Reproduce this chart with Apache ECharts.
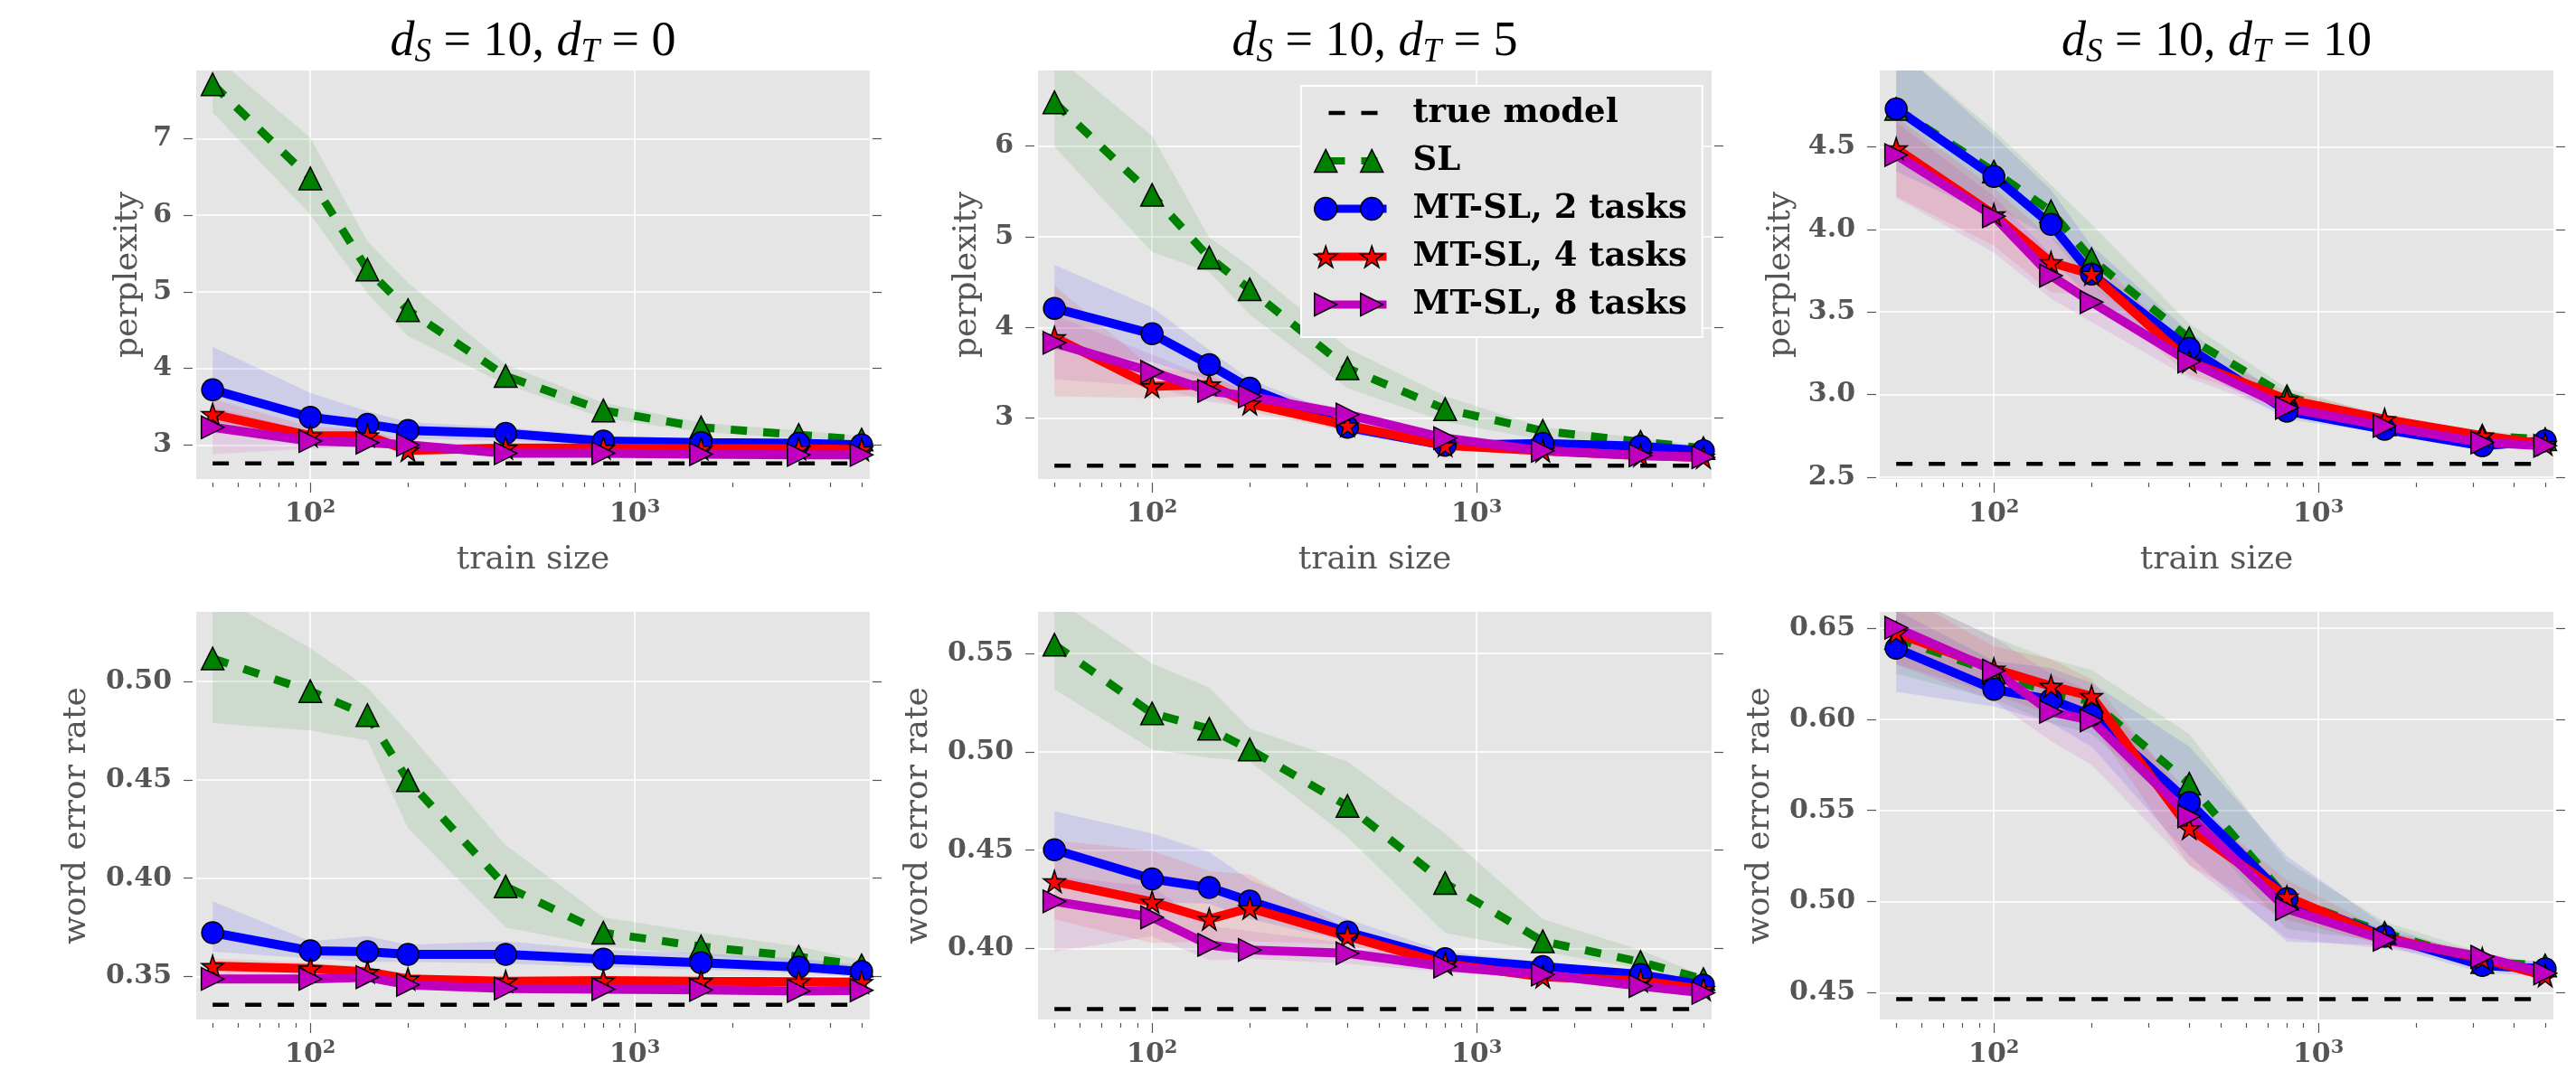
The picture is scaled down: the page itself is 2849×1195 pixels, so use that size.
<!DOCTYPE html>
<html>
<head>
<meta charset="utf-8">
<script src="https://cdn.jsdelivr.net/npm/echarts@6.0.0/dist/echarts.min.js"></script>
<style>
html, body { margin: 0; padding: 0; background: #fff; }
#chart { width: 2849px; height: 1195px; }
</style>
</head>
<body>
<div id="chart"></div>
<script>
/** 数据 */
var trainSize = [50, 100, 150, 200, 400, 800, 1600, 3200, 5000];
var xMajorTicks = [100, 1000];
var xMinorTicks = [50, 60, 70, 80, 90, 200, 300, 400, 500, 600, 700, 800, 900, 2000, 3000, 4000, 5000];
var methodNames = ['SL', 'MT-SL, 2 tasks', 'MT-SL, 4 tasks', 'MT-SL, 8 tasks'];
var trueName = 'true model';
var dS = '10';
var dT = ['0', '5', '10'];

// perplexity, d_T = 0
var ppl0_true = 2.76;
var ppl0_sl = [7.71, 6.48, 5.29, 4.76, 3.90, 3.45, 3.23, 3.13, 3.07];
var ppl0_slLo = [7.34, 6.01, 4.98, 4.42, 3.79, 3.35, 3.17, 3.09, 3.04];
var ppl0_slHi = [8.10, 7.01, 5.66, 5.12, 4.05, 3.55, 3.29, 3.19, 3.12];
var ppl0_mt2 = [3.72, 3.36, 3.27, 3.19, 3.15, 3.05, 3.03, 3.02, 3.00];
var ppl0_mt2Lo = [3.30, 3.09, 3.09, 3.08, 3.05, 3.00, 2.98, 2.97, 2.95];
var ppl0_mt2Hi = [4.28, 3.68, 3.44, 3.30, 3.23, 3.12, 3.08, 3.07, 3.05];
var ppl0_mt4 = [3.40, 3.12, 3.12, 2.93, 2.96, 2.96, 2.95, 2.95, 2.94];
var ppl0_mt4Lo = [3.18, 3.00, 3.04, 2.86, 2.92, 2.93, 2.92, 2.92, 2.91];
var ppl0_mt4Hi = [3.60, 3.24, 3.20, 3.04, 3.00, 2.99, 2.98, 2.98, 2.97];
var ppl0_mt8 = [3.23, 3.05, 3.03, 3.00, 2.89, 2.89, 2.88, 2.87, 2.87];
var ppl0_mt8Lo = [2.88, 2.95, 2.97, 2.95, 2.86, 2.86, 2.85, 2.85, 2.85];
var ppl0_mt8Hi = [3.49, 3.18, 3.10, 3.05, 2.93, 2.91, 2.90, 2.89, 2.89];
var ppl0_ticks = [3, 4, 5, 6, 7];
var ppl0_range = [2.555, 7.89];

// perplexity, d_T = 5
var ppl5_true = 2.476;
var ppl5_sl = [6.48, 5.46, 4.77, 4.42, 3.55, 3.10, 2.86, 2.74, 2.67];
var ppl5_slLo = [5.99, 4.83, 4.61, 4.14, 3.33, 2.96, 2.76, 2.69, 2.63];
var ppl5_slHi = [7.00, 6.11, 4.99, 4.67, 3.77, 3.24, 2.90, 2.78, 2.69];
var ppl5_mt2 = [4.21, 3.93, 3.59, 3.33, 2.90, 2.70, 2.72, 2.69, 2.64];
var ppl5_mt2Lo = [3.75, 3.62, 3.42, 3.20, 2.83, 2.66, 2.69, 2.66, 2.61];
var ppl5_mt2Hi = [4.69, 4.22, 3.75, 3.43, 3.00, 2.76, 2.74, 2.71, 2.67];
var ppl5_mt4 = [3.89, 3.35, 3.37, 3.16, 2.92, 2.70, 2.64, 2.59, 2.57];
var ppl5_mt4Lo = [3.24, 3.22, 3.25, 3.07, 2.86, 2.66, 2.60, 2.56, 2.54];
var ppl5_mt4Hi = [4.46, 3.55, 3.50, 3.26, 2.98, 2.75, 2.67, 2.62, 2.60];
var ppl5_mt8 = [3.83, 3.51, 3.30, 3.24, 3.04, 2.78, 2.64, 2.59, 2.57];
var ppl5_mt8Lo = [3.43, 3.35, 3.18, 3.12, 2.98, 2.74, 2.61, 2.56, 2.54];
var ppl5_mt8Hi = [4.14, 3.70, 3.45, 3.33, 3.09, 2.82, 2.67, 2.62, 2.60];
var ppl5_ticks = [3, 4, 5, 6];
var ppl5_range = [2.33, 6.83];

// perplexity, d_T = 10
var ppl10_true = 2.58;
var ppl10_sl = [4.73, 4.35, 4.11, 3.82, 3.34, 2.99, 2.82, 2.75, 2.73];
var ppl10_slLo = [4.42, 4.14, 3.95, 3.66, 3.22, 2.93, 2.79, 2.72, 2.71];
var ppl10_slHi = [5.10, 4.60, 4.27, 4.03, 3.43, 3.04, 2.87, 2.78, 2.75];
var ppl10_mt2 = [4.73, 4.32, 4.03, 3.73, 3.28, 2.90, 2.79, 2.69, 2.72];
var ppl10_mt2Lo = [4.35, 4.08, 3.82, 3.58, 3.18, 2.85, 2.77, 2.66, 2.70];
var ppl10_mt2Hi = [5.10, 4.57, 4.24, 3.90, 3.38, 2.97, 2.82, 2.73, 2.74];
var ppl10_mt4 = [4.49, 4.09, 3.80, 3.73, 3.20, 2.97, 2.85, 2.75, 2.70];
var ppl10_mt4Lo = [4.20, 3.90, 3.62, 3.60, 3.12, 2.93, 2.82, 2.72, 2.68];
var ppl10_mt4Hi = [4.68, 4.25, 3.95, 3.85, 3.27, 3.02, 2.88, 2.77, 2.72];
var ppl10_mt8 = [4.45, 4.08, 3.72, 3.56, 3.20, 2.92, 2.81, 2.71, 2.69];
var ppl10_mt8Lo = [4.19, 3.86, 3.58, 3.44, 3.10, 2.88, 2.78, 2.69, 2.67];
var ppl10_mt8Hi = [4.65, 4.20, 3.85, 3.66, 3.27, 2.96, 2.84, 2.73, 2.71];
var ppl10_ticks = [2.5, 3.0, 3.5, 4.0, 4.5];
var ppl10_range = [2.489, 4.962];

// word error rate, d_T = 0
var wer0_true = 0.3357;
var wer0_sl = [0.5117, 0.4951, 0.4829, 0.4498, 0.3958, 0.3723, 0.3653, 0.3601, 0.3557];
var wer0_slLo = [0.4789, 0.4751, 0.4702, 0.4254, 0.3749, 0.3653, 0.3610, 0.3566, 0.3531];
var wer0_slHi = [0.5450, 0.5169, 0.4969, 0.4742, 0.4167, 0.3801, 0.3723, 0.3653, 0.3584];
var wer0_mt2 = [0.3723, 0.3631, 0.3627, 0.3613, 0.3613, 0.3589, 0.3570, 0.3549, 0.3526];
var wer0_mt2Lo = [0.3627, 0.3592, 0.3575, 0.3575, 0.3566, 0.3549, 0.3535, 0.3517, 0.3500];
var wer0_mt2Hi = [0.3883, 0.3679, 0.3706, 0.3662, 0.3679, 0.3636, 0.3618, 0.3592, 0.3557];
var wer0_mt4 = [0.3553, 0.3540, 0.3523, 0.3488, 0.3476, 0.3479, 0.3476, 0.3474, 0.3471];
var wer0_mt4Lo = [0.3510, 0.3505, 0.3495, 0.3466, 0.3458, 0.3461, 0.3458, 0.3456, 0.3453];
var wer0_mt4Hi = [0.3592, 0.3570, 0.3550, 0.3510, 0.3495, 0.3497, 0.3495, 0.3493, 0.3490];
var wer0_mt8 = [0.3488, 0.3488, 0.3497, 0.3458, 0.3439, 0.3436, 0.3432, 0.3427, 0.3430];
var wer0_mt8Lo = [0.3466, 0.3470, 0.3478, 0.3440, 0.3423, 0.3420, 0.3416, 0.3411, 0.3414];
var wer0_mt8Hi = [0.3510, 0.3505, 0.3515, 0.3475, 0.3455, 0.3452, 0.3448, 0.3443, 0.3446];
var wer0_ticks = [0.35, 0.40, 0.45, 0.50];
var wer0_range = [0.3282, 0.5354];

// word error rate, d_T = 5
var wer5_true = 0.3693;
var wer5_sl = [0.5544, 0.5195, 0.5117, 0.5012, 0.4725, 0.4333, 0.4037, 0.3932, 0.3845];
var wer5_slLo = [0.5317, 0.5012, 0.4969, 0.4951, 0.4568, 0.4080, 0.3984, 0.3897, 0.3819];
var wer5_slHi = [0.5780, 0.5448, 0.5326, 0.5117, 0.4951, 0.4585, 0.4150, 0.3993, 0.3861];
var wer5_mt2 = [0.4502, 0.4354, 0.4310, 0.4242, 0.4084, 0.3949, 0.3909, 0.3868, 0.3815];
var wer5_mt2Lo = [0.4324, 0.4237, 0.4228, 0.4150, 0.4037, 0.3923, 0.3889, 0.3845, 0.3801];
var wer5_mt2Hi = [0.4699, 0.4585, 0.4490, 0.4350, 0.4150, 0.3984, 0.3932, 0.3889, 0.3836];
var wer5_mt4 = [0.4341, 0.4237, 0.4150, 0.4206, 0.4063, 0.3923, 0.3857, 0.3836, 0.3793];
var wer5_mt4Lo = [0.4150, 0.4028, 0.4037, 0.4037, 0.4020, 0.3897, 0.3838, 0.3818, 0.3778];
var wer5_mt4Hi = [0.4550, 0.4498, 0.4394, 0.4376, 0.4098, 0.3941, 0.3875, 0.3852, 0.3808];
var wer5_mt8 = [0.4240, 0.4159, 0.4019, 0.3993, 0.3976, 0.3909, 0.3868, 0.3810, 0.3775];
var wer5_mt8Lo = [0.3984, 0.4063, 0.3941, 0.3949, 0.3923, 0.3880, 0.3850, 0.3792, 0.3758];
var wer5_mt8Hi = [0.4368, 0.4315, 0.4115, 0.4089, 0.4028, 0.3932, 0.3886, 0.3828, 0.3792];
var wer5_ticks = [0.40, 0.45, 0.50, 0.55];
var wer5_range = [0.364, 0.5711];

// word error rate, d_T = 10
var wer10_true = 0.4466;
var wer10_sl = [0.6445, 0.6258, 0.6145, 0.6098, 0.5647, 0.5017, 0.4829, 0.4669, 0.4650];
var wer10_slLo = [0.625, 0.611, 0.598, 0.592, 0.545, 0.485, 0.478, 0.464, 0.459];
var wer10_slHi = [0.670, 0.645, 0.633, 0.627, 0.592, 0.522, 0.489, 0.472, 0.466];
var wer10_mt2 = [0.6389, 0.6164, 0.6107, 0.6023, 0.5543, 0.5017, 0.4810, 0.4650, 0.4632];
var wer10_mt2Lo = [0.615, 0.607, 0.598, 0.585, 0.525, 0.478, 0.476, 0.461, 0.459];
var wer10_mt2Hi = [0.660, 0.632, 0.628, 0.620, 0.585, 0.525, 0.487, 0.469, 0.467];
var wer10_mt4 = [0.6474, 0.6276, 0.6182, 0.6126, 0.5402, 0.5026, 0.4801, 0.4688, 0.4594];
var wer10_mt4Lo = [0.630, 0.614, 0.602, 0.598, 0.520, 0.490, 0.476, 0.466, 0.457];
var wer10_mt4Hi = [0.670, 0.640, 0.633, 0.622, 0.555, 0.512, 0.484, 0.471, 0.461];
var wer10_mt8 = [0.6502, 0.6267, 0.6041, 0.5994, 0.5468, 0.4960, 0.4791, 0.4697, 0.4607];
var wer10_mt8Lo = [0.630, 0.610, 0.588, 0.575, 0.520, 0.480, 0.474, 0.467, 0.458];
var wer10_mt8Hi = [0.670, 0.645, 0.625, 0.615, 0.560, 0.505, 0.484, 0.472, 0.462];
var wer10_ticks = [0.45, 0.50, 0.55, 0.60, 0.65];
var wer10_range = [0.4354, 0.6589];

/** 面板 */
var panels = [
    {truth: ppl0_true, mean: [ppl0_sl, ppl0_mt2, ppl0_mt4, ppl0_mt8], lo: [ppl0_slLo, ppl0_mt2Lo, ppl0_mt4Lo, ppl0_mt8Lo], hi: [ppl0_slHi, ppl0_mt2Hi, ppl0_mt4Hi, ppl0_mt8Hi], ticks: ppl0_ticks, range: ppl0_range, digits: 0, yName: 'perplexity'},
    {truth: ppl5_true, mean: [ppl5_sl, ppl5_mt2, ppl5_mt4, ppl5_mt8], lo: [ppl5_slLo, ppl5_mt2Lo, ppl5_mt4Lo, ppl5_mt8Lo], hi: [ppl5_slHi, ppl5_mt2Hi, ppl5_mt4Hi, ppl5_mt8Hi], ticks: ppl5_ticks, range: ppl5_range, digits: 0, yName: 'perplexity'},
    {truth: ppl10_true, mean: [ppl10_sl, ppl10_mt2, ppl10_mt4, ppl10_mt8], lo: [ppl10_slLo, ppl10_mt2Lo, ppl10_mt4Lo, ppl10_mt8Lo], hi: [ppl10_slHi, ppl10_mt2Hi, ppl10_mt4Hi, ppl10_mt8Hi], ticks: ppl10_ticks, range: ppl10_range, digits: 1, yName: 'perplexity'},
    {truth: wer0_true, mean: [wer0_sl, wer0_mt2, wer0_mt4, wer0_mt8], lo: [wer0_slLo, wer0_mt2Lo, wer0_mt4Lo, wer0_mt8Lo], hi: [wer0_slHi, wer0_mt2Hi, wer0_mt4Hi, wer0_mt8Hi], ticks: wer0_ticks, range: wer0_range, digits: 2, yName: 'word error rate'},
    {truth: wer5_true, mean: [wer5_sl, wer5_mt2, wer5_mt4, wer5_mt8], lo: [wer5_slLo, wer5_mt2Lo, wer5_mt4Lo, wer5_mt8Lo], hi: [wer5_slHi, wer5_mt2Hi, wer5_mt4Hi, wer5_mt8Hi], ticks: wer5_ticks, range: wer5_range, digits: 2, yName: 'word error rate'},
    {truth: wer10_true, mean: [wer10_sl, wer10_mt2, wer10_mt4, wer10_mt8], lo: [wer10_slLo, wer10_mt2Lo, wer10_mt4Lo, wer10_mt8Lo], hi: [wer10_slHi, wer10_mt2Hi, wer10_mt4Hi, wer10_mt8Hi], ticks: wer10_ticks, range: wer10_range, digits: 2, yName: 'word error rate'}
];

/** 样式配置 */
var serif = '"DejaVu Serif", serif';
var mathFont = '"Liberation Serif", "DejaVu Serif", serif';
var gridLeft = [217, 1148, 2079];
var gridTop = [78, 677];
var gridW = 745;
var gridH = 452;
var yNameGap = [53, 56, 87, 110, 110, 110];
var xMin = 44.5, xMax = 5300;
var colors = ['#008000', '#0000ff', '#ff0000', '#bf00bf'];
var bandColors = ['rgba(0,128,0,0.1)', 'rgba(0,0,255,0.1)', 'rgba(255,0,0,0.1)', 'rgba(191,0,191,0.1)'];
var lineWidths = [9, 10, 10, 10];
var tickStyle = {color: '#555', width: 1.2};

//--------- 工具方法 -------

/** 五角星顶点 */
var starPoints = function(cx, cy, R) {
    var pts = [];
    for (var k = 0; k < 10; k++) {
        var r = k % 2 ? R * 0.382 : R;
        var a = -Math.PI / 2 + k * Math.PI / 5;
        pts.push((cx + r * Math.cos(a)).toFixed(2) + ',' + (cy + r * Math.sin(a)).toFixed(2));
    }
    return 'M' + pts.join(' L') + ' Z';
};

var starPath = 'path://' + starPoints(50, 50, 50);
var rightTri = 'path://M0,0 L100,50 L0,100 Z';
var symbols = ['triangle', 'circle', starPath, rightTri];
var symbolSizes = [25, 24, 24, 25];

// 图例里两端各一个标记（76 x 25）
var starR = 12.5 / Math.cos(Math.PI / 10);
var pairIcons = [
    'path://M0,25 L12.5,0 L25,25 Z M51,25 L63.5,0 L76,25 Z',
    'path://M0,12.5 A12.5,12.5 0 1,1 25,12.5 A12.5,12.5 0 1,1 0,12.5 Z M51,12.5 A12.5,12.5 0 1,1 76,12.5 A12.5,12.5 0 1,1 51,12.5 Z',
    'path://' + starPoints(12.5, starR, starR) + ' ' + starPoints(63.5, starR, starR),
    'path://M0,0 L25,12.5 L0,25 Z M51,0 L76,12.5 L51,25 Z'
];

var zip = function(xs, ys) {
    return xs.map(function(x, k) { return [x, ys[k]]; });
};

/** 置信带：一个多边形，坐标由轴换算 */
var makeBand = function(xs, lo, hi, fill) {
    return function(params, api) {
        if (params.dataIndex !== 0) return null;
        var pts = [];
        for (var k = 0; k < xs.length; k++) pts.push(api.coord([xs[k], hi[k]]));
        for (var k2 = xs.length - 1; k2 >= 0; k2--) pts.push(api.coord([xs[k2], lo[k2]]));
        return {type: 'polygon', shape: {points: pts}, style: {fill: fill}, silent: true};
    };
};

/** 图例：底层画线，上层画两端标记 */
var legendBase = {
    show: true,
    orient: 'vertical',
    left: 1439,
    top: 95,
    padding: [10, 17, 16, 14],
    itemGap: 13,
    itemWidth: 76,
    itemHeight: 31,
    selectedMode: false
};
var legendText = {fontFamily: serif, fontWeight: 'bold', fontSize: 37, color: '#000', lineHeight: 40, padding: [0, 0, 0, 24]};

var legendLines = Object.assign({}, legendBase, {
    backgroundColor: '#E5E5E5',
    borderColor: '#fff',
    borderWidth: 2,
    z: 4,
    textStyle: legendText,
    data: [{name: trueName, itemStyle: {opacity: 0}, lineStyle: {color: '#000', width: 4.5, type: [18, 18], dashOffset: -12}}]
        .concat(methodNames.map(function(n, m) {
            return {name: n, itemStyle: {opacity: 0}, lineStyle: {color: colors[m], width: lineWidths[m] - 1, type: m === 0 ? [18, 18] : 'solid', dashOffset: -12}};
        }))
});
var legendMarks = Object.assign({}, legendBase, {
    backgroundColor: 'transparent',
    borderWidth: 0,
    z: 5,
    symbolKeepAspect: true,
    textStyle: Object.assign({}, legendText, {color: 'rgba(0,0,0,0)'}),
    data: [{name: trueName, icon: 'rect', itemStyle: {opacity: 0}}]
        .concat(methodNames.map(function(n, m) {
            return {name: n, icon: pairIcons[m], itemStyle: {color: colors[m], borderColor: '#000', borderWidth: 1.5, opacity: 1}};
        }))
});

var option = {
    animation: false,
    backgroundColor: '#fff',
    title: [],
    grid: [],
    xAxis: [],
    yAxis: [],
    series: [],
    legend: [legendLines, legendMarks]
};

// 标题
for (var c = 0; c < 3; c++) {
    option.title.push({
        text: '{i|d}{s|S}{n| = ' + dS + ', }{i|d}{s|T}{n| = ' + dT[c] + '}',
        left: gridLeft[c] + gridW / 2 - 5,
        top: 12,
        textAlign: 'center',
        textStyle: {
            fontWeight: 'normal',
            rich: {
                i: {fontFamily: mathFont, fontStyle: 'italic', fontWeight: 'normal', fontSize: 54, lineHeight: 60, color: '#000', verticalAlign: 'middle'},
                n: {fontFamily: mathFont, fontWeight: 'normal', fontSize: 54, lineHeight: 60, color: '#000', verticalAlign: 'middle'},
                s: {fontFamily: mathFont, fontStyle: 'italic', fontWeight: 'normal', fontSize: 37, lineHeight: 27, color: '#000', verticalAlign: 'bottom'}
            }
        }
    });
}

// 各面板
panels.forEach(function(p, i) {
    var col = i % 3, row = Math.floor(i / 3);
    option.grid.push({
        left: gridLeft[col], top: gridTop[row], width: gridW, height: row ? gridH - 1 : gridH,
        show: true, backgroundColor: '#E5E5E5', borderWidth: 0
    });
    // 主刻度 x 轴
    option.xAxis.push({
        gridIndex: i, type: 'log', logBase: 10, min: xMin, max: xMax, position: 'bottom', offset: 4,
        axisLine: {show: false},
        axisTick: {show: true, customValues: xMajorTicks, length: 11, lineStyle: tickStyle},
        axisLabel: {
            customValues: xMajorTicks, margin: 17,
            formatter: function(v) { return '{b|10}{s|' + Math.round(Math.log10(v)) + '}'; },
            rich: {
                b: {fontFamily: serif, fontWeight: 'bold', fontSize: 30, color: '#555', lineHeight: 36, verticalAlign: 'middle'},
                s: {fontFamily: serif, fontWeight: 'bold', fontSize: 21, color: '#555', lineHeight: 22, verticalAlign: 'top'}
            }
        },
        splitLine: {show: true, lineStyle: {color: '#fff', width: 1.5}},
        name: row === 0 ? 'train size' : '',
        nameLocation: 'middle', nameGap: 68,
        nameTextStyle: {fontFamily: serif, fontSize: 36, color: '#555'}
    });
    // 次刻度 x 轴
    option.xAxis.push({
        gridIndex: i, type: 'log', logBase: 10, min: xMin, max: xMax, position: 'bottom', offset: 4,
        axisLine: {show: false},
        axisTick: {show: true, customValues: xMinorTicks, length: 5, lineStyle: tickStyle},
        axisLabel: {show: false},
        splitLine: {show: false}
    });
    // 左 y 轴
    option.yAxis.push({
        gridIndex: i, type: 'value', min: p.range[0], max: p.range[1], position: 'left', offset: 4,
        axisLine: {show: false},
        axisTick: {show: true, customValues: p.ticks, length: 10, lineStyle: tickStyle},
        axisLabel: {
            customValues: p.ticks, margin: 23,
            formatter: function(v) { return v.toFixed(p.digits); },
            fontFamily: serif, fontWeight: 'bold', fontSize: 30, color: '#555'
        },
        splitLine: {show: true, lineStyle: {color: '#fff', width: 1.5}},
        name: p.yName, nameLocation: 'middle', nameGap: yNameGap[i],
        nameTextStyle: {fontFamily: serif, fontSize: 36, color: '#555'}
    });
    // 右 y 轴（只有刻度）
    option.yAxis.push({
        gridIndex: i, type: 'value', min: p.range[0], max: p.range[1], position: 'right', offset: 3,
        axisLine: {show: false},
        axisTick: {show: true, customValues: p.ticks, length: 10, lineStyle: tickStyle},
        axisLabel: {show: false},
        splitLine: {show: false}
    });

    var xi = 2 * i, yi = 2 * i;
    // 置信带
    for (var m = 0; m < 4; m++) {
        option.series.push({
            type: 'custom', name: 'band', xAxisIndex: xi, yAxisIndex: yi, z: 1, clip: true, silent: true,
            data: trainSize.map(function(x, k) { return [x, p.lo[m][k], p.hi[m][k]]; }),
            encode: {x: 0, y: [1, 2]},
            renderItem: makeBand(trainSize, p.lo[m], p.hi[m], bandColors[m])
        });
    }
    // 真实模型
    option.series.push({
        type: 'line', name: trueName, xAxisIndex: xi, yAxisIndex: yi, z: 2,
        data: trainSize.map(function(x) { return [x, p.truth]; }),
        symbol: 'none', silent: true,
        itemStyle: {color: '#000'},
        lineStyle: {color: '#000', width: 4.5, type: [18, 18]}
    });
    // 各方法折线
    for (var m2 = 0; m2 < 4; m2++) {
        option.series.push({
            type: 'line', name: methodNames[m2], xAxisIndex: xi, yAxisIndex: yi, z: 3,
            data: zip(trainSize, p.mean[m2]),
            symbol: symbols[m2], symbolSize: symbolSizes[m2], showSymbol: true, silent: true,
            itemStyle: {color: colors[m2], borderColor: '#000', borderWidth: 1.5},
            lineStyle: {color: colors[m2], width: lineWidths[m2], type: m2 === 0 ? [18, 18] : 'solid'},
            emphasis: {disabled: true}
        });
    }
});

var myChart = echarts.init(document.getElementById('chart'));
myChart.setOption(option);
</script>
</body>
</html>
